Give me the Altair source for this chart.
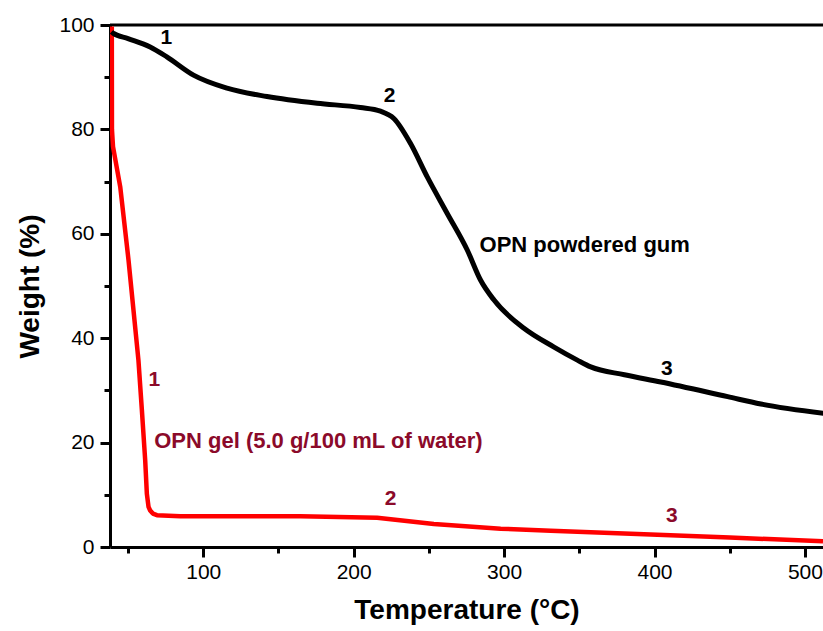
import altair as alt
import pandas as pd

# Black curve: OPN powdered gum
gum_temp = [39, 40.3, 50, 64.7, 75.8, 93.5, 115.8, 142.4, 175.7, 204.5, 217.8, 226.7,
            237.8, 248.9, 262.2, 275.5, 284.4, 293.3, 313.2, 333.2, 348.7, 357.6, 380,
            404.2, 448.6, 470.7, 512.8]
gum_weight = [98.7, 98.4, 97.4, 95.8, 93.9, 90.4, 87.9, 86.3, 85.0, 84.2, 83.5, 82.1,
              77.3, 70.9, 63.9, 56.9, 51.1, 47.3, 41.9, 38.3, 35.8, 34.5, 33.0,
              31.6, 28.8, 27.4, 25.6]

# Red curve: OPN gel
gel_temp = [39.2, 39.3, 40.0, 44.8, 50.3, 53.6, 56.9, 59.2, 61.4, 62.5, 63.6, 64.7,
            66.5, 69.2, 84.7, 98, 164.6, 215.6, 253.3, 297.7, 331, 397.5, 450, 512]
gel_weight = [99.7, 80.0, 76.7, 69.0, 55.0, 45.4, 35.8, 26.2, 16.6, 10.2, 7.7, 7.0,
              6.4, 6.1, 5.9, 5.9, 5.9, 5.6, 4.4, 3.5, 3.1, 2.4, 1.8, 1.1]

# Annotations
label_text = ["1", "2", "3", "1", "2", "3"]
label_temp = [75.4, 223.8, 408.2, 67.4, 224.5, 411.5]
label_weight = [97.5, 86.4, 34.1, 31.9, 9.1, 5.9]
label_color = ["black", "black", "black", "#8B0A2A", "#8B0A2A", "#8B0A2A"]

name_text = ["OPN powdered gum", "OPN gel (5.0 g/100 mL of water)"]
name_temp = [283.7, 67.4]
name_weight = [57.8, 20.3]
name_color = ["black", "#8B0A2A"]

FONT = "Liberation Sans"

gum = pd.DataFrame({"T": gum_temp, "W": gum_weight, "i": range(len(gum_temp))})
gel = pd.DataFrame({"T": gel_temp, "W": gel_weight, "i": range(len(gel_temp))})
labels = pd.DataFrame({"T": label_temp, "W": label_weight, "t": label_text, "c": label_color})
names = pd.DataFrame({"T": name_temp, "W": name_weight, "t": name_text, "c": name_color})

x_ticks = list(range(50, 501, 50))
y_ticks = list(range(0, 101, 10))

xscale = alt.Scale(domain=[38, 512], nice=False, zero=False)
yscale = alt.Scale(domain=[0, 100], nice=False)

xaxis = alt.Axis(
    values=x_ticks,
    labelExpr="datum.value % 100 == 0 ? datum.label : ''",
    tickSize={"condition": {"test": "datum.value % 100 != 0", "value": 6}, "value": 10},
    tickWidth=3, domainWidth=3, domainColor="black", tickColor="black",
    labelFontSize=21, labelColor="black", labelFont=FONT, labelPadding=4,
    grid=False, title="Temperature (°C)", titleFont=FONT, titleFontSize=28,
    titleFontWeight="bold", titleColor="black", titlePadding=14,
)
yaxis = alt.Axis(
    values=y_ticks,
    labelExpr="datum.value % 20 == 0 ? datum.label : ''",
    tickSize={"condition": {"test": "datum.value % 20 != 0", "value": 6}, "value": 10},
    tickWidth=3, domainWidth=3, domainColor="black", tickColor="black",
    labelFontSize=21, labelColor="black", labelFont=FONT, labelPadding=6,
    grid=False, title="Weight (%)", titleFont=FONT, titleFontSize=28,
    titleFontWeight="bold", titleColor="black", titlePadding=14,
)

gum_line = alt.Chart(gum).mark_line(color="black", strokeWidth=5, clip=True,
                                    interpolate="monotone").encode(
    x=alt.X("T:Q", scale=xscale, axis=xaxis),
    y=alt.Y("W:Q", scale=yscale, axis=yaxis),
    order="i:Q",
)
gel_line = alt.Chart(gel).mark_line(color="#FF0000", strokeWidth=4.5, clip=True,
                                    strokeJoin="round").encode(
    x=alt.X("T:Q", scale=xscale),
    y=alt.Y("W:Q", scale=yscale),
    order="i:Q",
)
top_rule = alt.Chart(pd.DataFrame({"y": [100]})).mark_rule(color="black", strokeWidth=3).encode(
    y=alt.Y("y:Q", scale=yscale)
)
num_text = alt.Chart(labels).mark_text(font=FONT, fontSize=21, fontWeight="bold",
                                       align="center", baseline="middle").encode(
    x=alt.X("T:Q", scale=xscale),
    y=alt.Y("W:Q", scale=yscale),
    text="t:N",
    color=alt.Color("c:N", scale=None),
)
name_txt = alt.Chart(names).mark_text(font=FONT, fontSize=22, fontWeight="bold",
                                      align="left", baseline="middle").encode(
    x=alt.X("T:Q", scale=xscale),
    y=alt.Y("W:Q", scale=yscale),
    text="t:N",
    color=alt.Color("c:N", scale=None),
)

chart = alt.layer(top_rule, gel_line, gum_line, num_text, name_txt).properties(
    width=713, height=522,
    autosize=alt.AutoSizeParams(type="none"),
    padding={"left": 110, "top": 25, "right": 0, "bottom": 84},
    background="white",
).configure_view(strokeWidth=0)

chart.save("out.html", embed_options={"renderer": "svg", "actions": False})
